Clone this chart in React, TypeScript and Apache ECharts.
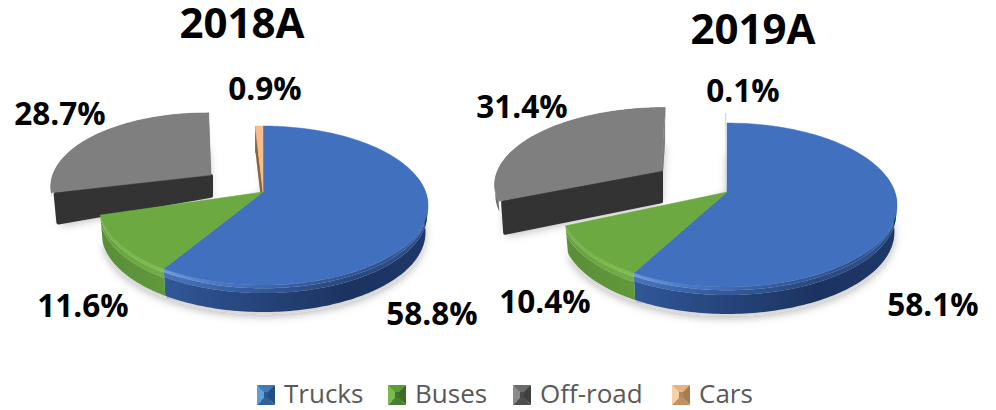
import React, { useEffect, useRef } from "react";
import * as echarts from "echarts";

const categories = ["Trucks", "Buses", "Off-road", "Cars"];
const years = ["2018A", "2019A"];
const trucks = [58.8, 58.1];
const buses = [11.6, 10.4];
const offRoad = [28.7, 31.4];
const cars = [0.9, 0.1];
const seriesValues = [trucks, buses, offRoad, cars];

const FONT = '"Open Sans", "Noto Sans", sans-serif';
const W = 996;
const H = 410;

// Perspective frame of each pie
const frames = [
  { ax: 263, ay: 192, al: 164, ar: 165, b: 77.2, k: 0.17, depth: 27 },
  { ax: 727, ay: 192, al: 167, ar: 170, b: 79.9, k: 0.1585, depth: 26 },
];
const plain = { ox: 0, oy: 0, sx: 1, sy: 1, shear: 0, yshear: 0, dA: 27, dC: 27, bs: 0.985 };
// per pie, per category placement
const placements: any[][] = [
  [plain, plain, { ox: -52, oy: -17, sx: 0.97, sy: 0.94, shear: -0.085, yshear: 0.025, dA: 22, dC: 32, bs: 0.98 }, plain],
  [plain, plain, { ox: -66, oy: -21, sx: 0.99, sy: 0.92, shear: -0.08, yshear: 0.005, dA: 32, dC: 34, bs: 0.985 }, { ...plain, ox: -1, oy: -10, dA: 12, dC: 12 }],
];
const labelPos = [
  [[432, 312], [83, 304], [60, 112], [265, 87]],
  [[933, 303], [545, 300], [522, 105], [743, 89]],
];
const titlePos = [[242, 0], [753, 6]];
const legendLeft = [257, 388, 513, 672];
const LEGEND_ICON_TOP = 385;
const LEGEND_TOP = 380;

const topFill = ["#4170BE", "#6DA941", "#7F7F7F", "#F5BC8C"];
const grad = (stops: [number, string][]) =>
  new echarts.graphic.LinearGradient(0, 0, 1, 0, stops.map(([offset, color]) => ({ offset, color })));

const bands: { from: number; to: number; stops: () => any }[][] = [
  [
    { from: 0, to: 0.12, stops: () => grad([[0, "#6C9DE8"], [0.2, "#4A78C6"], [0.5, "#365CA2"], [0.85, "#2E5190"], [1, "#4070BE"]]) },
    { from: 0.12, to: 0.3, stops: () => grad([[0, "#4874BC"], [0.3, "#365C9F"], [0.7, "#27497F"], [1, "#2D5290"]]) },
    { from: 0.3, to: 1, stops: () => grad([[0, "#305898"], [0.3, "#27477F"], [0.7, "#1C3361"], [1, "#1E3869"]]) },
  ],
  [
    { from: 0, to: 0.14, stops: () => grad([[0, "#72B347"], [1, "#7DC04F"]]) },
    { from: 0.14, to: 0.34, stops: () => grad([[0, "#68A23F"], [1, "#72AE47"]]) },
    { from: 0.34, to: 1, stops: () => grad([[0, "#5A8E37"], [1, "#62993B"]]) },
  ],
  [{ from: 0, to: 1, stops: () => grad([[0, "#5A5A5A"], [1, "#6A6A6A"]]) }],
  [{ from: 0, to: 1, stops: () => grad([[0, "#9A6A3A"], [1, "#9A6A3A"]]) }],
];

const legendBevel = [
  { top: "#3F7CB8", left: "#5E9FDA", right: "#234F7E", bottom: "#2F6396", core: "#2A5A8C" },
  { top: "#5E9C3A", left: "#78BA4E", right: "#3E6B26", bottom: "#4C8030", core: "#47752C" },
  { top: "#6B6B6B", left: "#8A8A8A", right: "#3F3F3F", bottom: "#4E4E4E", core: "#4A4A4A" },
  { top: "#E5B383", left: "#F6CFA4", right: "#A97C50", bottom: "#BF9060", core: "#B58858" },
];

function project(pie: number, cat: number, theta: number, r: number) {
  const f = frames[pie];
  const p = placements[pie][cat];
  const u = r * Math.sin(theta);
  const v = -r * Math.cos(theta);
  const w = 1 - f.k * v;
  const a = (u < 0 ? f.al : f.ar) * Math.sqrt(1 - f.k * f.k);
  const rx = ((a * u) / w) * p.sx;
  const ry = ((f.b * v) / w) * p.sy;
  return { rx: rx + p.shear * ry, ry: ry + p.yshear * rx };
}

function at(pie: number, cat: number, theta: number, r: number, depthFrac: number): number[] {
  const f = frames[pie];
  const p = placements[pie][cat];
  const { rx, ry } = project(pie, cat, theta, r);
  const d = (p.dA + (p.dC - p.dA) * r) * depthFrac;
  const scale = 1 - (1 - p.bs) * depthFrac;
  return [f.ax + p.ox + rx * scale, f.ay + p.oy + ry + d];
}

function arc(pie: number, cat: number, a0: number, a1: number, depthFrac: number, r = 1) {
  const pts: number[][] = [];
  const n = Math.max(2, Math.ceil(Math.abs(a1 - a0) / 0.02));
  for (let i = 0; i <= n; i++) {
    pts.push(at(pie, cat, a0 + ((a1 - a0) * i) / n, r, depthFrac));
  }
  return pts;
}

function bounds(pie: number, cat: number) {
  let sum = 0;
  for (let c = 0; c < cat; c++) sum += seriesValues[c][pie];
  const total = seriesValues.reduce((acc, s) => acc + s[pie], 0);
  return [(sum / total) * Math.PI * 2, ((sum + seriesValues[cat][pie]) / total) * Math.PI * 2];
}

function renderSlice(cat: number) {
  return (params: any, api: any) => {
    const pie = params.dataIndex;
    const [a0, a1] = bounds(pie, cat);
    const base = cat === 2 ? 10 : 20;
    const children: any[] = [];
    const poly = (points: number[][], fill: any, z2: number, extra: any = {}) =>
      children.push({ type: "polygon", silent: true, z2, shape: { points }, style: { fill, stroke: extra.stroke ?? "none", lineWidth: extra.lineWidth ?? 0, lineJoin: "round", ...(extra.style || {}) } });

    if (cat === 2) {
      // soft shadow of the pulled-out slice
      const ground = [at(pie, cat, a0, 0, 1), ...arc(pie, cat, a0, a1, 1, 0.96)];
      poly(ground, "#C8C8C8", 2, { style: { shadowBlur: 8, shadowColor: "rgba(0,0,0,0.25)", shadowOffsetY: 2 } });
      // cut face at the far end
      poly([at(pie, cat, a1, 0, 0), at(pie, cat, a1, 1, 0), at(pie, cat, a1, 1, 1), at(pie, cat, a1, 0, 1)],
        new echarts.graphic.LinearGradient(0, 0, 0, 1, [{ offset: 0, color: "#8C8C8C" }, { offset: 1, color: "#6A6A6A" }]), base + 1);
      // rim
      poly([...arc(pie, cat, a0, a1, 0), ...arc(pie, cat, a0, a1, 0.3).reverse()], "#6E6E6E", base);
      // dark cut face
      poly([at(pie, cat, a0, 0, 0.05), at(pie, cat, a0, 0.975, 0.05), at(pie, cat, a0, 0.975, 0.95), at(pie, cat, a0, 0, 0.95)],
        "#333333", base + 2, { stroke: "#333333", lineWidth: 4 });
    } else {
      if (cat === 0 || cat === 1) {
        const ground = [...arc(pie, cat, a0, a1, 1.08)];
        ground.push(at(pie, cat, a0, 0, 0));
        poly(ground, "#D8D8D8", 3, { style: { shadowBlur: 9, shadowColor: "rgba(0,0,0,0.28)", shadowOffsetY: 2 } });
      }
      bands[cat].forEach((b, i) => {
        const front = Math.max(a0, Math.PI / 2 - 0.2);
        const back = a1;
        const s = cat === 3 ? a0 : front;
        poly([...arc(pie, cat, s, back, b.from), ...arc(pie, cat, s, back, b.to).reverse()], b.stops(), base + i);
      });
      if (cat === 3) {
        const fill = pie === 0 ? "#8A6238" : "#D9D2CC";
        poly([at(pie, cat, a0, 0, 0), at(pie, cat, a0, 1, 0), at(pie, cat, a0, 1, 0.9), at(pie, cat, a0, 0, 0.9)], fill, base + 4);
      }
    }
    // top face
    const top = [at(pie, cat, a0, 0, 0), ...arc(pie, cat, a0, a1, 0)];
    const faceFill = cat === 3 && pie === 1 ? "#E6DDD5" : topFill[cat];
    poly(top, faceFill, cat === 2 ? base + 3 : 30 + (cat === 3 ? 1 : 0), { stroke: faceFill, lineWidth: 0.5 });

    const [lx, ly] = labelPos[pie][cat];
    children.push({
      type: "text", silent: true, z2: 100, x: lx, y: ly,
      style: {
        text: api.value(0).toFixed(1) + "%",
        fontFamily: FONT, fontSize: 31.5, fontWeight: 700, fill: "#000000",
        align: "center", verticalAlign: "middle",
      },
    });
    return { type: "group", children };
  };
}

function legendGraphic() {
  const out: any[] = [];
  const w = 18, h = 20, inset = 7;
  categories.forEach((_, i) => {
    const x = legendLeft[i], y = LEGEND_ICON_TOP, c = legendBevel[i];
    const tl = [x, y], tr = [x + w, y], br = [x + w, y + h], bl = [x, y + h];
    const itl = [x + inset, y + inset], itr = [x + w - inset, y + inset];
    const ibr = [x + w - inset, y + h - inset], ibl = [x + inset, y + h - inset];
    const add = (points: number[][], fill: string) =>
      out.push({ type: "polygon", silent: true, z: 50, shape: { points }, style: { fill } });
    add([tl, tr, itr, itl], c.top);
    add([tl, itl, ibl, bl], c.left);
    add([tr, br, ibr, itr], c.right);
    add([bl, ibl, ibr, br], c.bottom);
    add([itl, itr, ibr, ibl], c.core);
  });
  return out;
}

export default function App() {
  const ref = useRef<HTMLDivElement>(null);
  useEffect(() => {
    const chart = echarts.init(ref.current!, undefined, { renderer: "svg", width: W, height: H });
    chart.setOption({
      animation: false,
      backgroundColor: "#ffffff",
      title: years.map((text, i) => ({
        text,
        left: titlePos[i][0],
        top: titlePos[i][1],
        textAlign: "center",
        padding: 0,
        textStyle: { fontFamily: FONT, fontSize: 42, fontWeight: 700, color: "#000000" },
      })),
      legend: categories.map((name, i) => ({
        left: legendLeft[i] + 1,
        top: LEGEND_TOP,
        padding: 0,
        itemGap: 0,
        itemWidth: 16,
        itemHeight: 16,
        selectedMode: false,
        icon: "rect",
        data: [name],
        textStyle: { fontFamily: FONT, fontSize: 26, color: "#595959", padding: [0, 0, 0, 5] },
      })),
      graphic: legendGraphic(),
      series: categories.map((name, cat) => ({
        type: "custom",
        name,
        coordinateSystem: "none",
        silent: true,
        itemStyle: { color: topFill[cat] },
        data: seriesValues[cat].map((v) => [v]),
        renderItem: renderSlice(cat),
      })),
    });
    return () => chart.dispose();
  }, []);
  return <div ref={ref} style={{ position: "absolute", left: 0, top: 0, width: W, height: H, overflow: "hidden" }} />;
}
